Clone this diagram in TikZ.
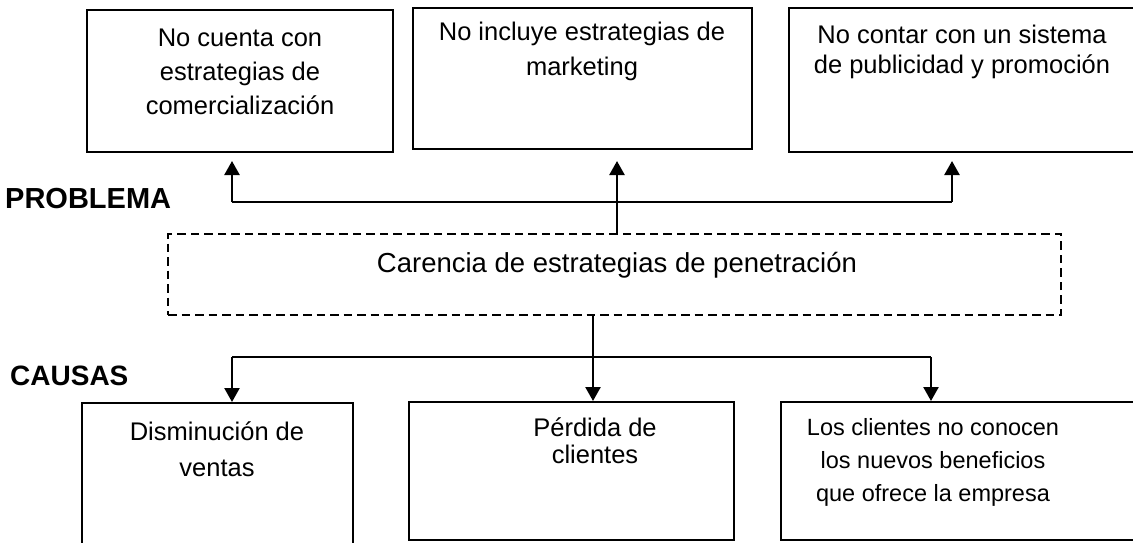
\documentclass[tikz,border=0pt]{standalone}
\usepackage{fontspec}
\setmainfont{Liberation Sans}
\usetikzlibrary{arrows.meta}
\tikzset{
  box/.style={draw=black, line width=2pt, inner sep=0pt},
  txt/.style={align=center, inner sep=0pt, anchor=north, text=black},
  conn/.style={draw=black, line width=2.4pt},
  arr/.style={conn, -{Triangle[length=14pt,width=15pt]}},
  dbox/.style={draw=black, dash pattern=on 8.5pt off 5pt, line width=2.4pt, inner sep=0pt},
  lbl/.style={anchor=base west, inner sep=0pt}
}
\begin{document}
\begin{tikzpicture}[x=1pt,y=-1pt]
\useasboundingbox (0,0) rectangle (1133,542);
\fill[white] (0,0) rectangle (1133,542);
\clip (0,0) rectangle (1133,542);
% boxes
\node[box, minimum width=306pt, minimum height=142pt] (top1) at (240,81) {};
\node[box, minimum width=339pt, minimum height=141pt] (top2) at (582.5,78.5) {};
\node[box, minimum width=346pt, minimum height=144pt] (top3) at (962,80) {};
\node[dbox, minimum width=893pt, minimum height=81pt] (pen) at (614.5,274.5) {};
\node[box, minimum width=271pt, minimum height=157pt] (b1) at (217.5,481.5) {};
\node[box, minimum width=325pt, minimum height=138pt] (b2) at (571.5,471) {};
\node[box, minimum width=354pt, minimum height=138pt] (b3) at (958,471) {};
% texts
\node[txt, font=\fontsize{25.5}{34}\selectfont] (t1) at (240,28.5) {No cuenta con\\estrategias de\\comercialización};
\node[txt, font=\fontsize{25.5}{35}\selectfont] (t2) at (582,21.5) {No incluye estrategias de\\marketing};
\node[txt, font=\fontsize{25.5}{30}\selectfont] (t3) at (962,24.5) {No contar con un sistema\\de publicidad y promoción};
\node[anchor=base, inner sep=0pt, font=\fontsize{27.5}{30}\selectfont] (tp) at (617,272) {Carencia de estrategias de penetración};
\node[txt, font=\fontsize{25.5}{36}\selectfont] (tb1) at (217,422) {Disminución de\\ventas};
\node[txt, font=\fontsize{25.5}{27}\selectfont] (tb2) at (595,418) {Pérdida de\\clientes};
\node[txt, font=\fontsize{23.5}{33}\selectfont] (tb3) at (933,418) {Los clientes no conocen\\los nuevos beneficios\\que ofrece la empresa};
\node[lbl, font=\bfseries\fontsize{29}{30}\selectfont] (prob) at (5,208) {PROBLEMA};
\node[lbl, font=\bfseries\fontsize{28}{30}\selectfont] (caus) at (10,385) {CAUSAS};
% upper connectors
\coordinate (uL) at (232,202);
\coordinate (uR) at (952,202);
\coordinate (uM) at (617,202);
\draw[conn] (uL) -- (uR);
\draw[arr, shorten >=8pt] (uL) -- (top1.south -| uL);
\draw[arr, shorten >=11pt] (pen.north -| uM) -- (top2.south -| uM);
\draw[arr, shorten >=8pt] (uR) -- (top3.south -| uR);
% lower connectors
\coordinate (dL) at (232,357);
\coordinate (dR) at (931,357);
\coordinate (dM) at (593,357);
\draw[conn] (dL) -- (dR);
\draw[arr] (pen.south -| dM) -- (b2.north -| dM);
\draw[arr] (dL) -- (b1.north -| dL);
\draw[arr] (dR) -- (b3.north -| dR);
\end{tikzpicture}
\end{document}
